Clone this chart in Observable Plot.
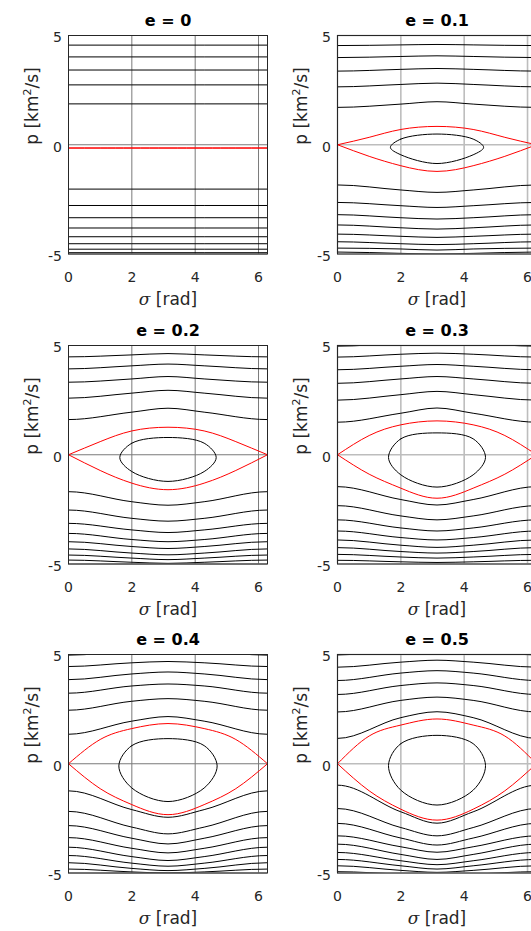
<!DOCTYPE html>
<html><head><meta charset="utf-8">
<script src="https://cdn.jsdelivr.net/npm/d3@7"></script>
<script src="https://cdn.jsdelivr.net/npm/@observablehq/plot@0.6"></script>
<style>
html,body{margin:0;padding:0;background:#fff;}
#fig{position:relative;width:531px;height:931px;overflow:hidden;background:#fff;}
#fig svg{position:absolute;max-width:none;}
</style></head><body><div id="fig"></div>
<script>
const eValues = [0, 0.1, 0.2, 0.3, 0.4, 0.5];
const xTicks = [0, 2, 4, 6];
const yTicks = [-5, 0, 5];
const sigmaOpenRead = [0, 2, Math.PI];
const sigmaSepRead = [0, 1, 2, Math.PI];

// open (rotating) curves: p at σ = 0, 2, π
const openE00 = [[4.56,4.56,4.56],[4.02,4.02,4.02],[3.42,3.42,3.42],[2.74,2.74,2.74],[1.87,1.87,1.87],
  [-2.03,-2.03,-2.03],[-2.78,-2.78,-2.78],[-3.34,-3.34,-3.34],[-3.81,-3.81,-3.81],[-4.21,-4.21,-4.21],
  [-4.53,-4.53,-4.53],[-4.78,-4.78,-4.78],[-4.94,-4.94,-4.94]];
const openE01 = [[4.54,4.57,4.59],[3.99,4.04,4.07],[3.37,3.45,3.49],[2.65,2.76,2.82],[1.71,1.86,1.97],
  [-1.84,-2.07,-2.18],[-2.64,-2.79,-2.87],[-3.20,-3.34,-3.40],[-3.67,-3.80,-3.86],[-4.09,-4.19,-4.24],
  [-4.44,-4.53,-4.57],[-4.73,-4.77,-4.82],[-4.91,-4.97,-5.00]];
const openE02 = [[4.48,4.57,4.63],[3.93,4.07,4.15],[3.32,3.47,3.58],[2.59,2.82,2.95],[1.61,1.95,2.13],
  [-1.69,-2.15,-2.31],[-2.53,-2.91,-3.04],[-3.14,-3.44,-3.56],[-3.60,-3.88,-3.98],[-3.98,-4.20,-4.29],
  [-4.31,-4.50,-4.58],[-4.59,-4.73,-4.80],[-4.82,-4.92,-4.97]];
const openE03 = [[4.97,5.10,5.15],[4.47,4.60,4.65],[3.89,4.05,4.13],[3.27,3.47,3.58],[2.50,2.75,2.90],[1.49,1.90,2.14],
  [-1.46,-2.05,-2.30],[-2.33,-2.80,-2.98],[-2.98,-3.35,-3.49],[-3.49,-3.79,-3.90],[-3.90,-4.14,-4.24],
  [-4.25,-4.43,-4.50],[-4.56,-4.68,-4.73],[-4.83,-4.90,-4.93]];
const openE04 = [[4.97,5.15,5.20],[4.45,4.62,4.68],[3.85,4.11,4.20],[3.23,3.56,3.65],[2.45,2.86,2.98],[1.35,1.95,2.16],
  [-1.24,-2.10,-2.45],[-2.18,-2.90,-3.21],[-2.83,-3.41,-3.67],[-3.38,-3.87,-4.08],[-3.82,-4.25,-4.43],
  [-4.20,-4.55,-4.69],[-4.53,-4.79,-4.89],[-4.82,-4.95,-5.00]];
const openE05 = [[4.98,5.20,5.30],[4.42,4.65,4.74],[3.81,4.15,4.26],[3.17,3.58,3.70],[2.37,2.90,3.05],[1.16,2.11,2.38],
  [-0.98,-2.20,-2.72],[-2.05,-2.92,-3.30],[-2.73,-3.40,-3.72],[-3.30,-3.80,-4.05],[-3.68,-4.15,-4.38],
  [-4.06,-4.44,-4.62],[-4.38,-4.67,-4.82],[-4.67,-4.88,-4.97],[-4.94,-5.05,-5.10]];

// separatrix branches: p at σ = 0, 1, 2, π
const sepUpper = [[-0.15,-0.15,-0.15,-0.15],[0,0.34,0.70,0.84],[0,0.60,1.09,1.26],[0,0.88,1.37,1.55],[0,1.11,1.61,1.84],[0,1.27,1.77,2.05]];
const sepLower = [[-0.15,-0.15,-0.15,-0.15],[0,-0.53,-0.96,-1.22],[0,-0.72,-1.30,-1.60],[0,-0.89,-1.53,-1.99],[0,-1.14,-1.87,-2.33],[0,-1.24,-2.08,-2.58]];

// libration orbit: [σ of left tip, p of tip, top at σ=2, top at π, bottom at σ=2, bottom at π]
const orbits = [null,
  [1.67,-0.12,0.26,0.49,-0.46,-0.86],
  [1.62,-0.13,0.53,0.79,-0.77,-1.22],
  [1.61,-0.12,0.73,1.00,-0.92,-1.48],
  [1.59,-0.10,0.83,1.15,-1.11,-1.73],
  [1.61,-0.08,0.92,1.30,-1.21,-1.89]];

const openCurves = [openE00, openE01, openE02, openE03, openE04, openE05];

const TAU = 2 * Math.PI;
function openPts(v) {
  const s = sigmaOpenRead;
  return [[-s[2], v[2]], [-s[1], v[1]], [s[0], v[0]], [s[1], v[1]], [s[2], v[2]], [TAU - s[1], v[1]], [TAU - s[0], v[0]], [TAU + s[1], v[1]], [TAU + s[2], v[2]]];
}
function sepPts(v) {
  const s = sigmaSepRead;
  return [[s[0], v[0]], [s[1], v[1]], [s[2], v[2]], [s[3], v[3]], [TAU - s[2], v[2]], [TAU - s[1], v[1]], [TAU - s[0], v[0]]];
}
function orbitPts(o) {
  const [st, pt, t2, tp, b2, bp] = o;
  return [[st, pt], [2, t2], [Math.PI, tp], [TAU - 2, t2], [TAU - st, pt], [TAU - 2, b2], [Math.PI, bp], [2, b2]];
}

const fig = document.getElementById("fig");
const colLeft = [0, 269];
const rowTop = [0, 309.5, 619];

eValues.forEach((e, i) => {
  const col = i % 2, row = Math.floor(i / 2);
  const gridColor = col === 0 ? "#7a7a7a" : "#bdbdbd";
  const gridWidth = col === 0 ? 1 : 1.6;
  const marks = [
    Plot.gridX({ticks: xTicks, stroke: gridColor, strokeOpacity: 1, strokeWidth: gridWidth}),
    Plot.gridY({ticks: yTicks, stroke: gridColor, strokeOpacity: 1, strokeWidth: gridWidth}),
  ];
  openCurves[i].forEach(v => marks.push(Plot.line(openPts(v), {x: d => d[0], y: d => d[1], curve: "monotone-x", stroke: "#000", strokeWidth: 1, clip: true})));
  if (orbits[i]) marks.push(Plot.line(orbitPts(orbits[i]), {x: d => d[0], y: d => d[1], curve: "catmull-rom-closed", stroke: "#000", strokeWidth: 1, clip: true}));
  marks.push(Plot.line(sepPts(sepUpper[i]), {x: d => d[0], y: d => d[1], curve: "natural", stroke: "#ff0000", strokeWidth: 1, clip: true}));
  marks.push(Plot.line(sepPts(sepLower[i]), {x: d => d[0], y: d => d[1], curve: "natural", stroke: "#ff0000", strokeWidth: 1, clip: true}));
  marks.push(
    Plot.frame({stroke: "#262626", strokeWidth: 1}),
    Plot.axisX({ticks: xTicks, tickSize: 0, tickPadding: 18, fontSize: 14, label: null, tickFormat: d => String(d)}),
    Plot.axisY({ticks: yTicks, tickSize: 0, tickPadding: 6.5, dy: 2.5, fontSize: 14, label: null, tickFormat: d => String(d)}),
    Plot.text([`e = ${e}`], {frameAnchor: "top", dy: -10, lineAnchor: "bottom", fontWeight: "bold", fontSize: 16, fill: "#000"}),
    Plot.text(["σ [rad]"], {frameAnchor: "bottom", dy: 51, lineAnchor: "bottom", fontSize: 17, fill: "#262626"}),
    Plot.text(["p [km2/s]"], {frameAnchor: "left", rotate: -90, dx: -36, lineAnchor: "middle", fontSize: 17, fill: "#262626"})
  );
  const svg = Plot.plot({
    width: 269, height: 309,
    marginLeft: 68, marginRight: 2, marginTop: 35, marginBottom: 55.5,
    x: {domain: [0, TAU]},
    y: {domain: [-5, 5]},
    style: {fontFamily: "DejaVu Sans", color: "#262626", background: "transparent"},
    marks
  });
  svg.style.left = colLeft[col] + "px";
  svg.style.top = rowTop[row] + "px";
  svg.querySelectorAll("text").forEach(t => {
    if (t.textContent === "σ [rad]") {
      t.innerHTML = '<tspan font-family="DejaVu Serif" font-style="italic">σ</tspan> [rad]';
    } else if (t.textContent === "p [km2/s]") {
      t.innerHTML = 'p [km<tspan font-size="11" dy="-7">2</tspan><tspan dy="7">/s]</tspan>';
    }
  });
  fig.appendChild(svg);
});
</script></body></html>
